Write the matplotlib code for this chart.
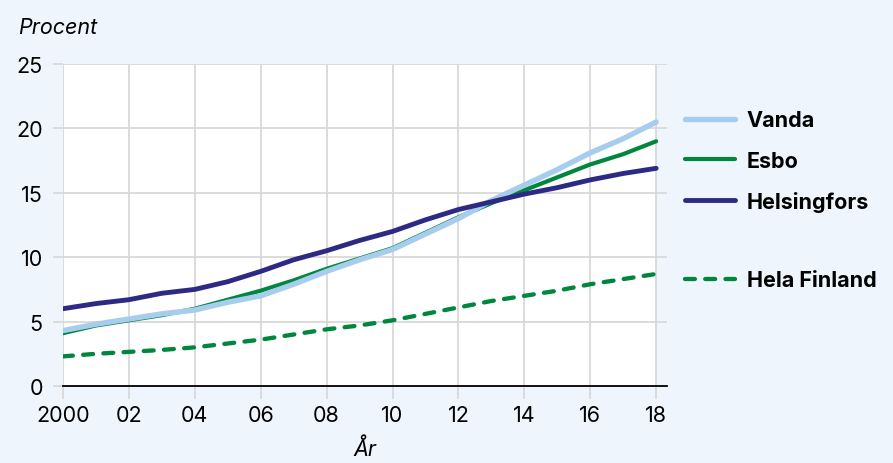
import matplotlib.pyplot as plt
from matplotlib.lines import Line2D

years = list(range(2000, 2019))
vanda = [4.3, 4.8, 5.2, 5.6, 5.9, 6.5, 7.0, 7.9, 8.9, 9.8, 10.6, 11.8, 13.0, 14.4, 15.6, 16.8, 18.1, 19.2, 20.5]
esbo = [4.1, 4.7, 5.1, 5.5, 6.0, 6.7, 7.4, 8.2, 9.1, 9.9, 10.7, 11.9, 13.1, 14.2, 15.2, 16.2, 17.2, 18.0, 19.0]
helsingfors = [6.0, 6.4, 6.7, 7.2, 7.5, 8.1, 8.9, 9.8, 10.5, 11.3, 12.0, 12.9, 13.7, 14.3, 14.9, 15.4, 16.0, 16.5, 16.9]
hela_finland = [2.3, 2.5, 2.65, 2.8, 3.0, 3.3, 3.6, 4.0, 4.4, 4.7, 5.1, 5.6, 6.1, 6.6, 7.0, 7.4, 7.9, 8.3, 8.7]
xticks = [2000, 2002, 2004, 2006, 2008, 2010, 2012, 2014, 2016, 2018]
xticklabels = ["2000", "02", "04", "06", "08", "10", "12", "14", "16", "18"]
yticks = [0, 5, 10, 15, 20, 25]

bg = "#eef5fd"
c_vanda = "#a7cdee"
c_esbo = "#00873d"
c_hfors = "#2d2a85"
grid_c = "#d6d6d6"

plt.rcParams["font.family"] = ["Inter", "DejaVu Sans"]

fig = plt.figure(figsize=(8.93, 4.64), dpi=100, facecolor=bg)
ax = fig.add_axes([63 / 893, 77 / 464, (667 - 63) / 893, (387 - 65) / 464])
ax.set_facecolor(bg)
ax.axvspan(2000, 2018, color="white", zorder=0, lw=0)

ax.set_xlim(2000, 2018.33)
ax.set_ylim(0, 25)

# Esbo under Vanda, Helsingfors on top
l_esbo, = ax.plot(years, esbo, color=c_esbo, lw=3.0, solid_capstyle="round", zorder=3)
l_vanda, = ax.plot(years, vanda, color=c_vanda, lw=3.9, solid_capstyle="round", zorder=3.5)
l_hfors, = ax.plot(years, helsingfors, color=c_hfors, lw=3.5, solid_capstyle="round", zorder=4)
l_fin, = ax.plot(years, hela_finland, color=c_esbo, lw=3.1, dashes=(2.3, 2.4),
                 dash_capstyle="round", zorder=4)

ax.set_xticks(xticks)
ax.set_xticklabels(xticklabels)
ax.set_yticks(yticks)
ax.grid(True, color=grid_c, lw=1.2, zorder=1)
ax.set_axisbelow(True)

for s in ["top", "right", "left"]:
    ax.spines[s].set_visible(False)
ax.spines["bottom"].set_color("black")
ax.spines["bottom"].set_linewidth(1.3)
ax.spines["bottom"].set_zorder(5)

ax.tick_params(axis="y", length=7.5, width=1.2, color=grid_c, pad=7, labelsize=15.5)
ax.tick_params(axis="x", length=9, width=1.2, color=grid_c, pad=5, labelsize=15.5)

fig.text(18 / 893, 1 - 28 / 464, "Procent", fontsize=15.5, style="italic", va="center", ha="left")
fig.text(365 / 893, 1 - 449 / 464, "År", fontsize=15.5, style="italic", va="center", ha="center")

blank = Line2D([], [], color="none")
handles = [l_vanda, l_esbo, l_hfors, blank, l_fin]
labels = ["Vanda", "Esbo", "Helsingfors", " ", "Hela Finland"]
leg = fig.legend(handles, labels, loc="upper left", bbox_to_anchor=(666 / 893, 1 - 92 / 464),
                 frameon=False, handlelength=2.3, handletextpad=0.55, labelspacing=0.94,
                 prop={"weight": "bold", "size": 15.5})
leg.get_texts()[3].set_fontsize(11)
for h in leg.legend_handles:
    h.set_solid_capstyle("round")

fig.savefig("out.png", dpi=100, facecolor=bg)
